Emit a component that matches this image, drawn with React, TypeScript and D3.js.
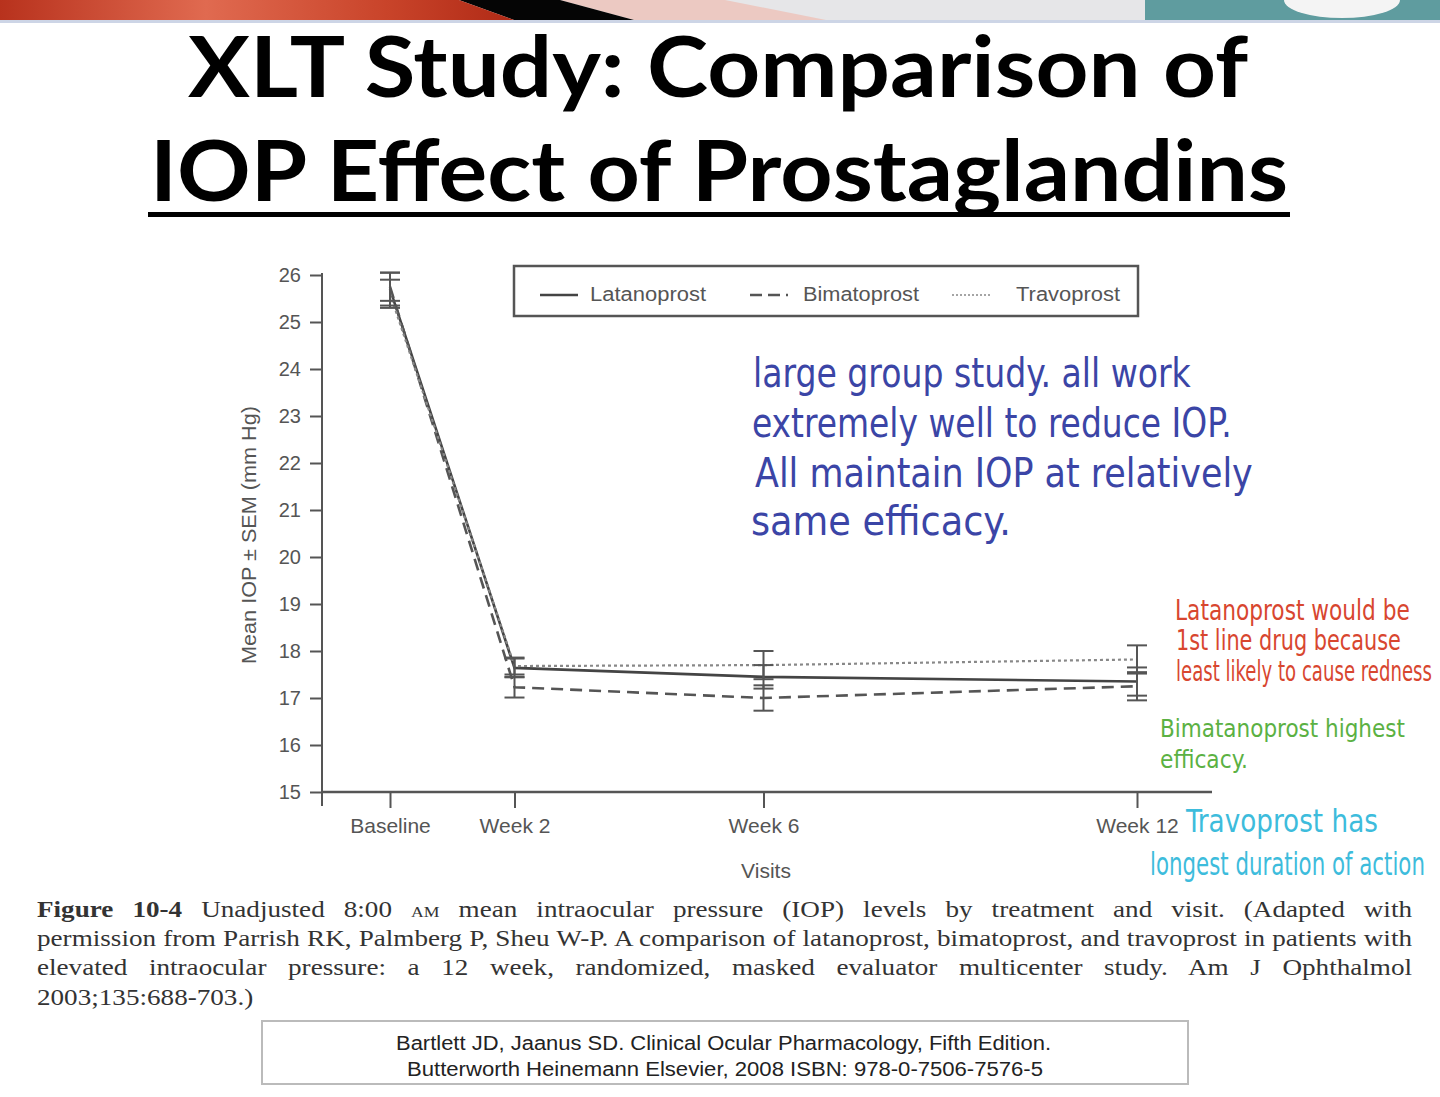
import React, { useRef, useEffect } from "react";
import * as d3 from "d3";

const visits = ["Baseline", "Week 2", "Week 6", "Week 12"];
const visitWeeks = [0, 2, 6, 12];
const latanoprost = [25.7, 17.64, 17.45, 17.35];
const bimatoprost = [25.75, 17.23, 17.0, 17.25];
const travoprost = [25.6, 17.68, 17.7, 17.82];
const latanoprostSem = [0.35, 0.2, 0.25, 0.3];
const bimatoprostSem = [0.3, 0.22, 0.27, 0.3];
const travoprostSem = [0.3, 0.18, 0.3, 0.3];
const yTicks = [15, 16, 17, 18, 19, 20, 21, 22, 23, 24, 25, 26];

const seriesNames = ["Latanoprost", "Bimatoprost", "Travoprost"];

const noteBlue = [
  "large group study. all work",
  "extremely  well  to reduce IOP.",
  "All maintain  IOP at  relatively",
  "same  efficacy.",
];
const noteRed = [
  "Latanoprost  would be",
  "1st line drug because",
  "least likely to cause redness",
];
const noteGreen = ["Bimatanoprost highest", "efficacy."];
const noteCyan = ["Travoprost has", "longest duration of action"];

const captionLines = [
  "Unadjusted 8:00 AM mean intraocular pressure (IOP) levels by treatment and visit. (Adapted with",
  "permission from Parrish RK, Palmberg P, Sheu W-P. A comparison of latanoprost, bimatoprost, and travoprost in patients with",
  "elevated intraocular pressure: a 12 week, randomized, masked evaluator multicenter study. Am J Ophthalmol",
  "2003;135:688-703.)",
];

const W = 1440,
  H = 1097;

const App = () => {
  const svgRef = useRef<SVGSVGElement>(null);

  useEffect(() => {
    if (!svgRef.current) return;
    const svg = d3.select(svgRef.current);
    svg.selectAll("*").remove();

    // banner
    const defs = svg.append("defs");
    const grad = defs
      .append("linearGradient")
      .attr("id", "red")
      .attr("x1", 0)
      .attr("x2", 1);
    grad.append("stop").attr("offset", "0%").attr("stop-color", "#b8321d");
    grad.append("stop").attr("offset", "40%").attr("stop-color", "#e06a50");
    grad.append("stop").attr("offset", "75%").attr("stop-color", "#c9442a");
    grad.append("stop").attr("offset", "100%").attr("stop-color", "#b02a16");
    const banner = svg.append("g");
    banner.append("rect").attr("x", 0).attr("y", 0).attr("width", W).attr("height", 20).attr("fill", "#e6e6e8");
    banner.append("polygon").attr("points", "560,0 725,0 826,20 634,20").attr("fill", "#ecc9c2");
    banner.append("polygon").attr("points", "459,0 560,0 634,20 514,20").attr("fill", "#050505");
    banner.append("polygon").attr("points", "0,0 459,0 514,20 0,20").attr("fill", "url(#red)");
    banner.append("rect").attr("x", 1145).attr("y", 0).attr("width", W - 1145).attr("height", 20).attr("fill", "#5f9c9f");
    banner.append("ellipse").attr("cx", 1342).attr("cy", 0).attr("rx", 58).attr("ry", 18).attr("fill", "#f4f4f4");
    banner.append("rect").attr("x", 0).attr("y", 20).attr("width", W).attr("height", 3).attr("fill", "#cdd5e6");

    // title
    const title = svg.append("g").attr("font-family", "Lato, 'Open Sans', sans-serif").attr("fill", "#000");
    title
      .append("text")
      .attr("x", 188)
      .attr("y", 97)
      .attr("font-size", 84)
      .attr("font-weight", 700)
      .attr("textLength", 1060)
      .attr("lengthAdjust", "spacingAndGlyphs")
      .text("XLT Study: Comparison of");
    title
      .append("text")
      .attr("x", 150)
      .attr("y", 201)
      .attr("font-size", 84)
      .attr("font-weight", 700)
      .attr("textLength", 1138)
      .attr("lengthAdjust", "spacingAndGlyphs")
      .text("IOP Effect of Prostaglandins");
    title.append("rect").attr("x", 148).attr("y", 212).attr("width", 1142).attr("height", 5).attr("fill", "#000");

    // chart
    const x = d3.scaleLinear().domain([0, 12]).range([390, 1137]);
    const y = d3.scaleLinear().domain([15, 26]).range([792, 275]);
    const axisColor = "#555";
    const chart = svg.append("g").attr("font-family", "'Liberation Sans', Arial, sans-serif");

    const yAxis = chart
      .append("g")
      .attr("transform", "translate(322,0)")
      .call(d3.axisLeft(y).tickValues(yTicks).tickSize(12).tickSizeOuter(0).tickPadding(9));
    yAxis.select(".domain").attr("stroke", axisColor).attr("stroke-width", 2).attr("d", `M0,${y(26) - 2}V${y(15) + 14}`);
    yAxis.selectAll("line").attr("stroke", axisColor).attr("stroke-width", 2);
    yAxis.selectAll("text").attr("fill", axisColor).attr("font-size", 20);

    const xAxis = chart
      .append("g")
      .attr("transform", "translate(0,792)")
      .call(
        d3
          .axisBottom(x)
          .tickValues(visitWeeks)
          .tickFormat((_, i) => visits[i])
          .tickSize(16)
          .tickSizeOuter(0)
          .tickPadding(10)
      );
    xAxis.select(".domain").attr("stroke", axisColor).attr("stroke-width", 2.5).attr("d", `M322,0H1212`);
    xAxis.selectAll("line").attr("stroke", axisColor).attr("stroke-width", 2);
    xAxis.selectAll("text").attr("fill", axisColor).attr("font-size", 21);

    chart
      .append("text")
      .attr("transform", "translate(256,535) rotate(-90)")
      .attr("text-anchor", "middle")
      .attr("font-size", 20)
      .attr("fill", axisColor)
      .attr("textLength", 258)
      .attr("lengthAdjust", "spacingAndGlyphs")
      .text("Mean IOP \u00b1 SEM (mm Hg)");
    chart
      .append("text")
      .attr("x", 766)
      .attr("y", 878)
      .attr("text-anchor", "middle")
      .attr("font-size", 21)
      .attr("fill", axisColor)
      .text("Visits");

    const series = [
      { name: seriesNames[0], values: latanoprost, sem: latanoprostSem, color: "#444", dash: "none", width: 2.6 },
      { name: seriesNames[1], values: bimatoprost, sem: bimatoprostSem, color: "#555", dash: "12,7", width: 2.6 },
      { name: seriesNames[2], values: travoprost, sem: travoprostSem, color: "#888", dash: "3,3", width: 2.2 },
    ];

    const line = d3
      .line<number>()
      .x((_, i) => x(visitWeeks[i]))
      .y((d) => y(d));

    series.forEach((s) => {
      chart
        .append("path")
        .attr("d", line(s.values))
        .attr("fill", "none")
        .attr("stroke", s.color)
        .attr("stroke-width", s.width)
        .attr("stroke-dasharray", s.dash);
    });

    series.forEach((s) => {
      const eb = chart.append("g").attr("stroke", "#555").attr("stroke-width", 2);
      s.values.forEach((v, i) => {
        const cx = x(visitWeeks[i]);
        const top = y(v + s.sem[i]);
        const bot = y(v - s.sem[i]);
        eb.append("line").attr("x1", cx).attr("x2", cx).attr("y1", top).attr("y2", bot);
        eb.append("line").attr("x1", cx - 10).attr("x2", cx + 10).attr("y1", top).attr("y2", top);
        eb.append("line").attr("x1", cx - 10).attr("x2", cx + 10).attr("y1", bot).attr("y2", bot);
      });
    });

    // legend
    const legend = chart.append("g");
    legend
      .append("rect")
      .attr("x", 514)
      .attr("y", 266)
      .attr("width", 624)
      .attr("height", 50)
      .attr("fill", "#fff")
      .attr("stroke", "#555")
      .attr("stroke-width", 2.5);
    const legendX = [540, 750, 952];
    const textX = [590, 803, 1016];
    const textW = [116, 116, 104];
    series.forEach((s, i) => {
      legend
        .append("line")
        .attr("x1", legendX[i])
        .attr("x2", legendX[i] + 38)
        .attr("y1", 295)
        .attr("y2", 295)
        .attr("stroke", s.color)
        .attr("stroke-width", i === 2 ? 1.5 : 2.5)
        .attr("stroke-dasharray", i === 1 ? "12,6" : i === 2 ? "2,2" : "none");
      legend
        .append("text")
        .attr("x", textX[i])
        .attr("y", 301)
        .attr("font-size", 20)
        .attr("fill", axisColor)
        .attr("textLength", textW[i])
        .attr("lengthAdjust", "spacingAndGlyphs")
        .text(s.name);
    });

    // handwritten notes, stretched to the width they take in the picture
    const notes = svg.append("g").attr("font-family", "'DejaVu Sans Condensed', 'DejaVu Sans', sans-serif");
    const addNote = (
      lines: string[],
      color: string,
      xs: number[],
      ys: number[],
      widths: number[],
      size: number
    ) => {
      lines.forEach((t, i) => {
        const txt = notes
          .append("text")
          .attr("font-size", size)
          .attr("fill", color)
          .text(t);
        const len = (txt.node() as SVGTextElement).getComputedTextLength();
        txt.attr("transform", `translate(${xs[i]},${ys[i]}) scale(${widths[i] / len},1)`);
      });
    };
    addNote(noteBlue, "#3b45a6", [753, 752, 755, 751], [387, 437, 487, 535], [438, 480, 498, 260], 40);
    addNote(noteRed, "#d8462f", [1175, 1176, 1176], [620, 650, 681], [235, 225, 256], 28);
    addNote(noteGreen, "#5bb143", [1160, 1160], [737, 768], [245, 88], 25);
    addNote(noteCyan, "#3dbcdc", [1186, 1150], [832, 875], [192, 275], 32);

    // caption, justified
    const capScale = 1.18;
    const capWidth = (1412 - 37) / capScale;
    const cap = svg
      .append("g")
      .attr("transform", `translate(37,0) scale(${capScale},1)`)
      .attr("font-family", "'Liberation Serif', 'DejaVu Serif', serif")
      .attr("font-size", 23)
      .attr("fill", "#333");
    const capY = [917, 946, 975, 1005];
    captionLines.forEach((t, i) => {
      const txt = cap.append("text").attr("x", 0).attr("y", capY[i]);
      if (i === 0) {
        txt.append("tspan").attr("font-weight", "bold").text("Figure 10-4 ");
        const parts = t.split("AM");
        txt.append("tspan").text(parts[0]);
        txt.append("tspan").attr("font-size", 15).text("AM");
        txt.append("tspan").text(parts[1]);
      } else {
        txt.text(t);
      }
      if (i < 3) {
        const len = (txt.node() as SVGTextElement).getComputedTextLength();
        const spaces = (i === 0 ? "Figure 10-4 " + t : t).split(" ").length - 1;
        txt.attr("word-spacing", (capWidth - len) / spaces);
      }
    });

    // citation box
    const cite = svg.append("g").attr("font-family", "'Liberation Sans', Arial, sans-serif").attr("font-size", 20).attr("fill", "#222");
    cite
      .append("rect")
      .attr("x", 262)
      .attr("y", 1021)
      .attr("width", 926)
      .attr("height", 63)
      .attr("fill", "none")
      .attr("stroke", "#bbb")
      .attr("stroke-width", 2);
    cite
      .append("text")
      .attr("x", 396)
      .attr("y", 1050)
      .attr("textLength", 655)
      .attr("lengthAdjust", "spacingAndGlyphs")
      .text("Bartlett JD, Jaanus SD. Clinical Ocular Pharmacology, Fifth Edition.");
    cite
      .append("text")
      .attr("x", 407)
      .attr("y", 1076)
      .attr("textLength", 636)
      .attr("lengthAdjust", "spacingAndGlyphs")
      .text("Butterworth Heinemann Elsevier, 2008 ISBN: 978-0-7506-7576-5");
  }, []);

  return (
    <svg
      ref={svgRef}
      width={W}
      height={H}
      viewBox={`0 0 ${W} ${H}`}
      style={{ position: "absolute", left: 0, top: 0, background: "#fff", display: "block" }}
    ></svg>
  );
};

export default App;
